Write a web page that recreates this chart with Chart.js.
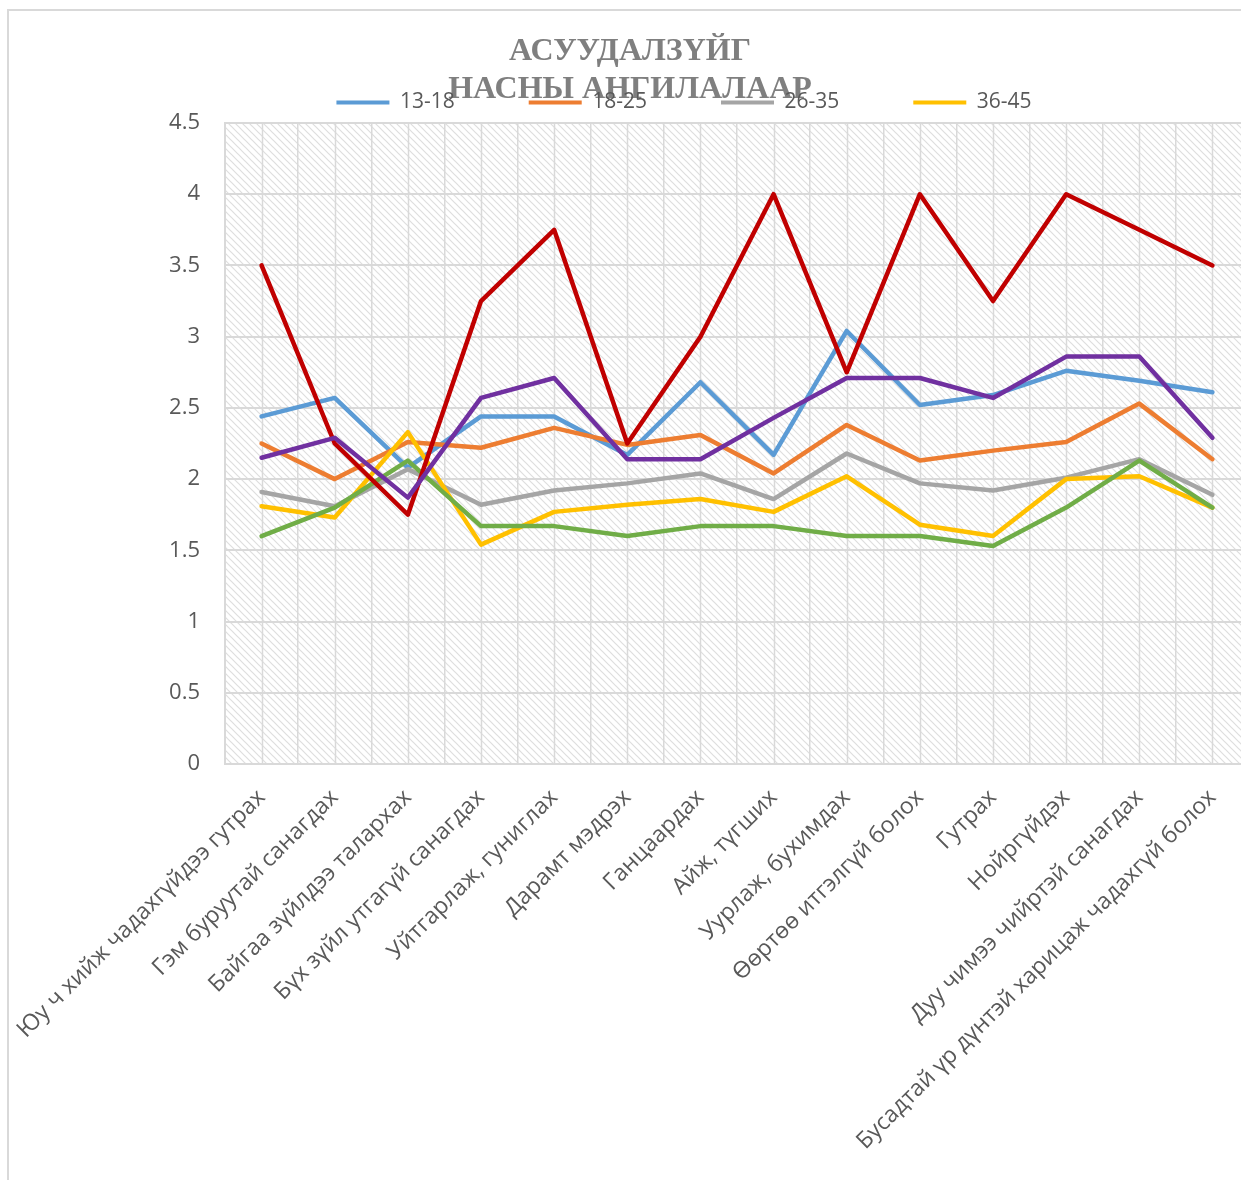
<!DOCTYPE html>
<html><head><meta charset="utf-8">
<script src="https://cdn.jsdelivr.net/npm/chart.js@4/dist/chart.umd.min.js"></script>
<style>
html,body{margin:0;padding:0;background:#fff;overflow:hidden;width:1241px;height:1180px}
#frame{position:absolute;left:7px;top:9px;width:1300px;height:1300px;border-left:2px solid #d9d9d9;border-top:2px solid #d9d9d9}
#wrap{position:absolute;left:0;top:0;width:1260px;height:1180px}
</style></head><body>
<div id="frame"></div>
<div id="wrap"><canvas id="c" width="1260" height="1180"></canvas></div>
<script>
const titleLines = ['АСУУДАЛЗҮЙГ', 'НАСНЫ АНГИЛАЛААР'];
const categories = [
  'Юу ч хийж чадахгүйдээ гутрах',
  'Гэм буруутай санагдах',
  'Байгаа зүйлдээ талархах',
  'Бүх зүйл утгагүй санагдах',
  'Уйтгарлаж, гуниглах',
  'Дарамт мэдрэх',
  'Ганцаардах',
  'Айж, түгших',
  'Уурлаж, бухимдах',
  'Өөртөө итгэлгүй болох',
  'Гутрах',
  'Нойргүйдэх',
  'Дуу чимээ чийртэй санагдах',
  'Бусадтай үр дүнтэй харицаж чадахгүй болох'
];
const seriesNames = ['13-18', '18-25', '26-35', '36-45', '46-55', '56-65', '66+'];
const s13_18 = [2.44, 2.57, 2.08, 2.44, 2.44, 2.17, 2.68, 2.17, 3.04, 2.52, 2.59, 2.76, 2.69, 2.61];
const s18_25 = [2.25, 2.00, 2.26, 2.22, 2.36, 2.24, 2.31, 2.04, 2.38, 2.13, 2.20, 2.26, 2.53, 2.14];
const s26_35 = [1.91, 1.81, 2.07, 1.82, 1.92, 1.97, 2.04, 1.86, 2.18, 1.97, 1.92, 2.01, 2.14, 1.89];
const s36_45 = [1.81, 1.73, 2.33, 1.54, 1.77, 1.82, 1.86, 1.77, 2.02, 1.68, 1.60, 2.00, 2.02, 1.80];
const s46_55 = [1.60, 1.80, 2.13, 1.67, 1.67, 1.60, 1.67, 1.67, 1.60, 1.60, 1.53, 1.80, 2.13, 1.80];
const s56_65 = [3.50, 2.25, 1.75, 3.25, 3.75, 2.25, 3.00, 4.00, 2.75, 4.00, 3.25, 4.00, 3.75, 3.50];
const s66 = [2.15, 2.29, 1.87, 2.57, 2.71, 2.14, 2.14, 2.43, 2.71, 2.71, 2.57, 2.86, 2.86, 2.29];
const seriesValues = [s13_18, s18_25, s26_35, s36_45, s46_55, s56_65, s66];
const seriesColors = ['#5B9BD5', '#ED7D31', '#A5A5A5', '#FFC000', '#70AD47', '#C00000', '#7030A0'];
const yTickLabels = ['0', '0.5', '1', '1.5', '2', '2.5', '3', '3.5', '4', '4.5'];
const legendCount = 4;

(function () {
  const s = 7;
  const c = document.createElement('canvas');
  c.width = s; c.height = s;
  const g = c.getContext('2d');
  g.fillStyle = '#ffffff';
  g.fillRect(0, 0, s, s);
  g.strokeStyle = '#dedede';
  g.lineWidth = 1.2;
  g.beginPath();
  g.moveTo(0, 0); g.lineTo(s, s);
  g.moveTo(s - 2, -2); g.lineTo(s + 2, 2);
  g.moveTo(-2, s - 2); g.lineTo(2, s + 2);
  g.stroke();
  window.__tile = c;
})();

const bgPlugin = {
  id: 'bgAndTitle',
  beforeDraw(chart) {
    const {ctx, chartArea} = chart;
    ctx.save();
    ctx.fillStyle = ctx.createPattern(window.__tile, 'repeat');
    ctx.fillRect(chartArea.left, chartArea.top, chartArea.right - chartArea.left, chartArea.bottom - chartArea.top);
    ctx.font = 'bold 32px "Liberation Serif"';
    ctx.fillStyle = '#7f7f7f';
    ctx.textAlign = 'center';
    ctx.textBaseline = 'middle';
    titleLines.forEach((t, i) => ctx.fillText(t, 630, 52 + i * 38));
    ctx.restore();
  },
  beforeDatasetsDraw(chart) {
    const {ctx, chartArea, scales} = chart;
    const x = scales.x;
    ctx.save();
    ctx.strokeStyle = '#d9d9d9';
    ctx.lineWidth = 1.5;
    ctx.beginPath();
    for (let i = 0; i < categories.length; i++) {
      const px = Math.round(x.getPixelForValue(i)) + 0.5;
      ctx.moveTo(px, chartArea.top);
      ctx.lineTo(px, chartArea.bottom);
    }
    ctx.stroke();
    ctx.restore();
  }
};

const datasets = seriesNames.map((name, i) => ({
  label: name,
  data: seriesValues[i],
  borderColor: seriesColors[i],
  backgroundColor: seriesColors[i],
  borderWidth: 4.5,
  pointRadius: 0,
  pointHoverRadius: 0,
  tension: 0,
  borderJoinStyle: 'round',
  borderCapStyle: 'round',
  order: seriesNames.length - i
}));

const tickFont = {family: '"Open Sans", "Noto Sans", sans-serif', size: 22};
const xFont = {family: '"Open Sans", "Noto Sans", sans-serif', size: 23};

const chart = new Chart(document.getElementById('c'), {
  type: 'line',
  data: {labels: categories, datasets},
  plugins: [bgPlugin],
  options: {
    responsive: false,
    devicePixelRatio: 1,
    animation: false,
    events: [],
    layout: {padding: {top: 18, left: 119, right: 11, bottom: 0}},
    plugins: {
      title: {display: false},
      tooltip: {enabled: false},
      legend: {
        position: 'top',
        align: 'center',
        labels: {
          boxWidth: 53,
          boxHeight: 4,
          padding: 74,
          color: '#595959',
          font: {family: '"Open Sans", "Noto Sans", sans-serif', size: 21},
          filter: (item) => item.datasetIndex < legendCount,
          sort: (a, b) => a.datasetIndex - b.datasetIndex,
          generateLabels(ch) {
            const items = Chart.defaults.plugins.legend.labels.generateLabels(ch);
            items.forEach(it => { it.lineWidth = 0; it.fillStyle = it.strokeStyle; });
            return items;
          }
        }
      }
    },
    scales: {
      x: {
        type: 'category',
        offset: true,
        grid: {display: true, offset: true, color: '#d9d9d9', lineWidth: 1.5, drawTicks: false},
        border: {display: true, color: '#d9d9d9', width: 2},
        ticks: {
          autoSkip: false, maxRotation: 45, minRotation: 45, padding: 20,
          color: '#595959', font: xFont
        },
        afterFit(scale) { scale.height = 416; scale.paddingLeft = 0; scale.paddingRight = 0; }
      },
      y: {
        min: 0, max: 4.5,
        grid: {color: '#d9d9d9', lineWidth: 2, drawTicks: false},
        border: {display: true, color: '#d9d9d9', width: 2},
        ticks: {
          stepSize: 0.5, padding: 25, color: '#595959', font: tickFont,
          callback: (v, i) => yTickLabels[i]
        },
        afterFit(scale) { scale.width = 106; }
      }
    }
  }
});
</script>
</body></html>
